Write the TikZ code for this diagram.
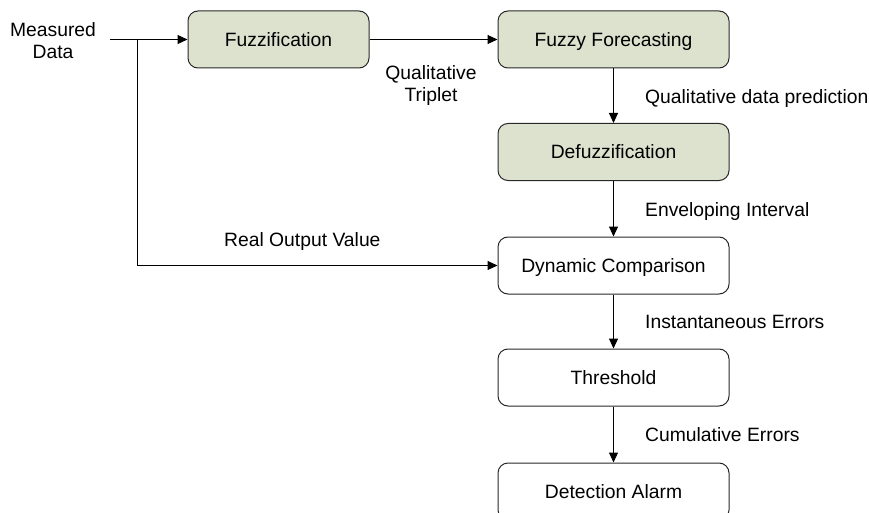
\documentclass[tikz,border=0pt]{standalone}
\usepackage{fontspec}
\setmainfont{Liberation Sans}
\usetikzlibrary{arrows.meta}
\definecolor{fuzzfill}{RGB}{221,226,207}
\definecolor{edge}{RGB}{40,40,40}
\begin{document}
\begin{tikzpicture}[x=1pt,y=-1pt,
  every node/.style={font=\fontsize{19.3}{22}\selectfont, inner sep=0pt, text=black},
  box/.style={draw=edge, line width=1pt, rounded corners=10pt, minimum height=57pt, minimum width=231pt, text height=17.8pt, text depth=4pt},
  fuzzbox/.style={box, fill=fuzzfill},
  plainbox/.style={box, fill=white},
  lab/.style={anchor=base west},
  conn/.style={draw=black, line width=1pt, -{Triangle[length=10pt,width=9pt]}}
]
\useasboundingbox (0,0) rectangle (869,513);
\fill[white] (0,0) rectangle (869,513);
\begin{scope}
\clip (0,0) rectangle (869,513);
\node[fuzzbox, minimum width=181pt] (fuzz) at (278.5,39.5) {Fuzzification};
\node[fuzzbox] (fore) at (613.5,39.5) {Fuzzy Forecasting};
\node[fuzzbox] (defuzz) at (613.5,152) {Defuzzification};
\node[plainbox] (dyn) at (613.5,265.5) {Dynamic Comparison};
\node[plainbox] (thr) at (613.5,377.5) {Threshold};
\node[plainbox] (alarm) at (613.5,491.5) {Detection Alarm};
\end{scope}

\node[align=center, anchor=north] (meas) at (53,22) {Measured\\Data};
\coordinate (start) at (110,39.5);
\coordinate (branch) at (137,39.5);
\coordinate (corner) at (137,265.5);

\draw[conn] (start) -- (fuzz.west);
\draw[line width=1pt] (branch) -- (corner);
\draw[conn] (corner) -- (dyn.west);
\draw[conn] (fuzz.east) -- (fore.west);
\draw[conn] (fore.south) -- (defuzz.north);
\draw[conn] (defuzz.south) -- (dyn.north);
\draw[conn] (dyn.south) -- (thr.north);
\draw[conn] (thr.south) -- (alarm.north);

\node[align=center, anchor=north] (trip) at (431,65) {Qualitative\\Triplet};
\node[lab] (l1) at (645,104) {Qualitative data prediction};
\node[lab] (l2) at (645,216) {Enveloping Interval};
\node[lab] (l3) at (645,328) {Instantaneous Errors};
\node[lab] (l4) at (645,441) {Cumulative Errors};
\node[lab] (l5) at (224,246) {Real Output Value};
\end{tikzpicture}
\end{document}
